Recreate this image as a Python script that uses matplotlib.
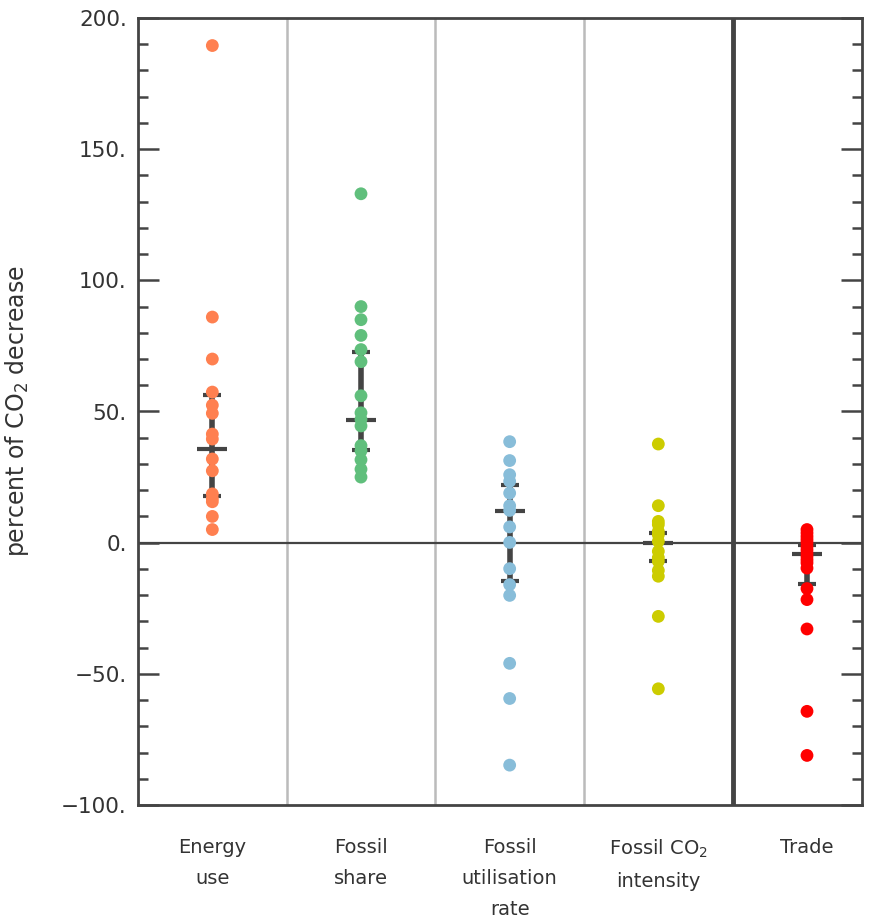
import matplotlib
matplotlib.use("Agg")
import matplotlib.pyplot as plt
from matplotlib.ticker import MultipleLocator, FuncFormatter

categories = ["Energy\nuse", "Fossil\nshare", "Fossil\nutilisation\nrate",
              "Fossil CO$_2$\nintensity", "Trade"]
colors = ["#FF8050", "#60BF7C", "#88BDD9", "#CCCC00", "#FF0000"]

energy_use = [189.5, 86, 70, 57.4, 52.4, 49.3, 41.4, 39.5, 31.9, 27.4, 18.6, 16.8, 15.6, 10, 5]
fossil_share = [133, 90, 85, 79, 73.6, 69, 56, 49.5, 47, 44.5, 37, 35, 31.6, 28, 25]
fossil_util = [38.5, 31.3, 25.9, 23.4, 18.9, 14.1, 12.3, 6, 0.1, -9.9, -16, -20.1, -46, -59.4, -84.8]
fossil_int = [37.6, 14.1, 8.1, 6.9, 4.3, 3, 0.5, -3.3, -5.7, -7.1, -10.6, -12.8, -28.1, -55.7]
trade = [5, 3.7, 2.4, 1.2, 0, -1.4, -2.7, -4, -5.2, -6.5, -7.7, -9.7, -17.5, -21.7, -32.9, -64.3, -81.1]
series = [energy_use, fossil_share, fossil_util, fossil_int, trade]

medians = [35.8, 46.9, 11.9, 0.0, -4.2]
upper_q = [56.2, 72.6, 22.0, 3.5, -0.8]
lower_q = [17.9, 35.5, -14.6, -7.0, -15.6]

fig = plt.figure(figsize=(8.76, 9.21), dpi=100)
ax = fig.add_axes([138/876, 1-805/921, (862-138)/876, (805-18)/921])

dark = "#444444"
txt = "#333333"

ax.set_xlim(-0.5, 4.37)
ax.set_ylim(-100, 200)

# separators
for xs in [0.5, 1.5, 2.5]:
    ax.axvline(xs, color="#BBBBBB", lw=1.8, zorder=1)
ax.axvline(3.5, color=dark, lw=3.5, zorder=1)
ax.axhline(0, color=dark, lw=1.6, zorder=1)

for i, vals in enumerate(series):
    ax.plot([i, i], [lower_q[i], upper_q[i]], color=dark, lw=4, zorder=2, solid_capstyle="butt")
    ax.plot([i - 0.06, i + 0.06], [upper_q[i]] * 2, color=dark, lw=3, zorder=2, solid_capstyle="butt")
    ax.plot([i - 0.06, i + 0.06], [lower_q[i]] * 2, color=dark, lw=3, zorder=2, solid_capstyle="butt")
    ax.plot([i - 0.1, i + 0.1], [medians[i]] * 2, color=dark, lw=3, zorder=2, solid_capstyle="butt")
    ax.scatter([i] * len(vals), vals, s=85, color=colors[i], edgecolors="none", zorder=3)

ax.set_xticks(range(5))
ax.set_xticklabels([])
for i, lab in enumerate(categories):
    ax.text(i, -112.5, lab, ha="center", va="top", fontsize=14, color=txt,
            linespacing=1.8)
ax.tick_params(axis="x", length=0)

ax.yaxis.set_major_locator(MultipleLocator(50))
ax.yaxis.set_minor_locator(MultipleLocator(10))
ax.yaxis.set_major_formatter(FuncFormatter(lambda v, p: f"{v:.0f}.".replace("-", "\u2212")))
ax.tick_params(axis="y", which="both", direction="in", left=True, right=True,
               color=dark, width=1.8, labelsize=15.5, labelcolor=txt, pad=8)
ax.tick_params(axis="y", which="major", length=15)
ax.tick_params(axis="y", which="minor", length=7)

for sp in ax.spines.values():
    sp.set_color(dark)
    sp.set_linewidth(2)

ax.set_ylabel("percent of CO$_2$ decrease", fontsize=17, color=txt)
ax.yaxis.set_label_coords(-0.148, 0.5)

fig.savefig("out.png", dpi=100)
